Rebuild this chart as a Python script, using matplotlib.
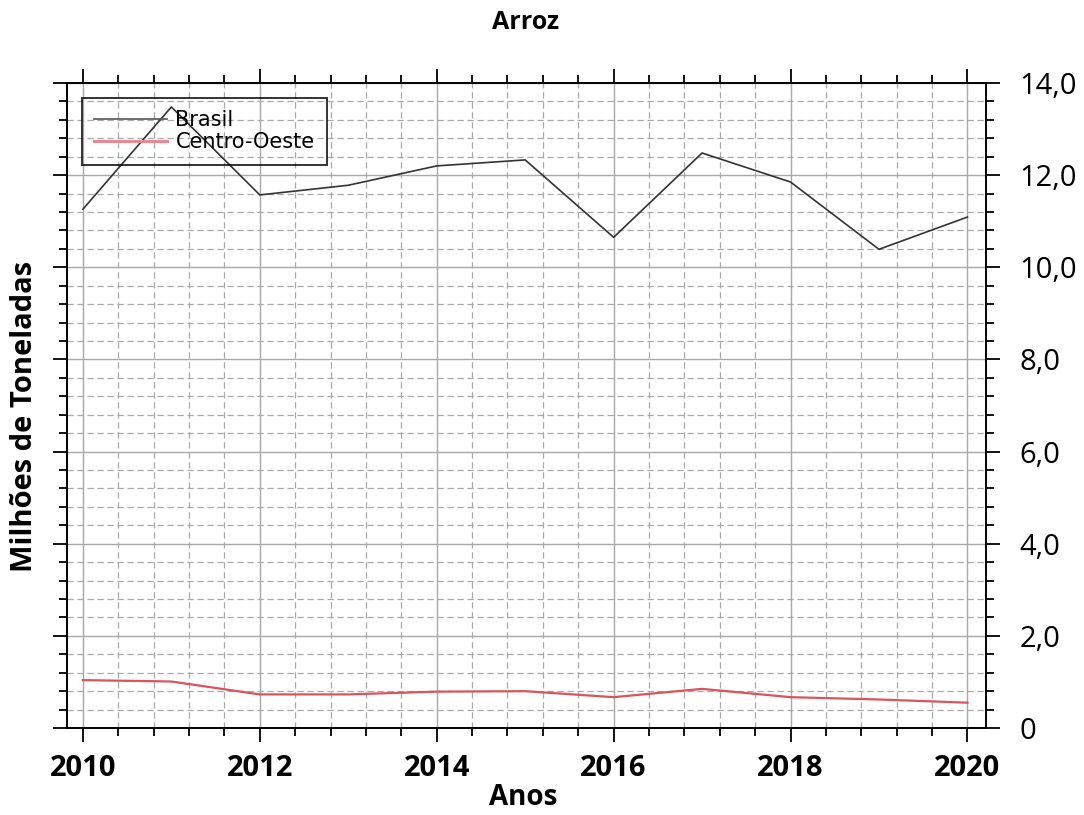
import numpy as np
import matplotlib.pyplot as plt
from matplotlib.ticker import MultipleLocator, FixedLocator

anos = [2010, 2011, 2012, 2013, 2014, 2015, 2016, 2017, 2018, 2019, 2020]
brasil = [11.26, 13.48, 11.57, 11.78, 12.20, 12.33, 10.65, 12.48, 11.85, 10.39, 11.09]
centro_oeste = [1.04, 1.01, 0.73, 0.73, 0.79, 0.80, 0.67, 0.85, 0.67, 0.62, 0.55]
yticks = [0, 2, 4, 6, 8, 10, 12, 14]
ytick_labels = ["0", "2,0", "4,0", "6,0", "8,0", "10,0", "12,0", "14,0"]
xticks = [2010, 2012, 2014, 2016, 2018, 2020]

plt.rcParams['font.family'] = ['Open Sans', 'DejaVu Sans']

fig = plt.figure(figsize=(10.84, 8.15), dpi=100)
ax = fig.add_axes([0.0618, 0.1067, 0.8478, 0.7915])

ax.plot(anos, brasil, color="#333333", lw=1.2, label="Brasil")
ax.plot(anos, centro_oeste, color="#d9545c", lw=1.6, label="Centro-Oeste")

ax.set_xlim(2009.82, 2020.21)
ax.set_ylim(0, 14)

ax.xaxis.set_major_locator(FixedLocator(xticks))
ax.xaxis.set_minor_locator(MultipleLocator(0.4))
ax.yaxis.set_major_locator(FixedLocator(yticks))
ax.yaxis.set_minor_locator(MultipleLocator(0.4))
ax.set_xticklabels([str(x) for x in xticks], fontweight="bold", fontsize=21)
ax.set_yticklabels(ytick_labels, fontsize=21)

ax.grid(which="major", color="#a8a8a8", lw=1.0, ls="-")
ax.grid(which="minor", color="#a8a8a8", lw=0.9, ls=(0, (5, 3)))
ax.set_axisbelow(True)

ax.tick_params(which="both", direction="out", top=True, bottom=True,
               left=True, right=True, labelleft=False, labelright=True,
               color="black", width=1.3)
ax.tick_params(which="major", length=10)
ax.tick_params(axis="x", which="major", pad=9)
ax.tick_params(axis="y", which="major", pad=14)
ax.tick_params(which="minor", length=6)
for s in ax.spines.values():
    s.set_linewidth(1.4)

leg = ax.legend(loc="upper left", bbox_to_anchor=(0.016, 0.977), borderaxespad=0,
                frameon=True, fancybox=False, edgecolor="black",
                handlelength=3.5, handletextpad=0.4, borderpad=0.6,
                labelspacing=0.1, prop={"family": ["DejaVu Sans"], "size": 15})
leg.get_frame().set_facecolor("none")
leg.get_frame().set_linewidth(1.4)
leg.get_lines()[0].set_color("#555555")
leg.get_lines()[1].set_color("#e88890")
leg.get_lines()[1].set_linewidth(2.2)

fig.text(0.485, 0.972, "Arroz", ha="center", va="center", fontsize=18, fontweight="bold")
fig.text(0.483, 0.022, "Anos", ha="center", va="center", fontsize=20, fontweight="bold")
fig.text(0.023, 0.489, "Milhões de Toneladas", ha="center", va="center",
         rotation=90, fontsize=21, fontweight="bold")

fig.savefig("out.png", dpi=100)
